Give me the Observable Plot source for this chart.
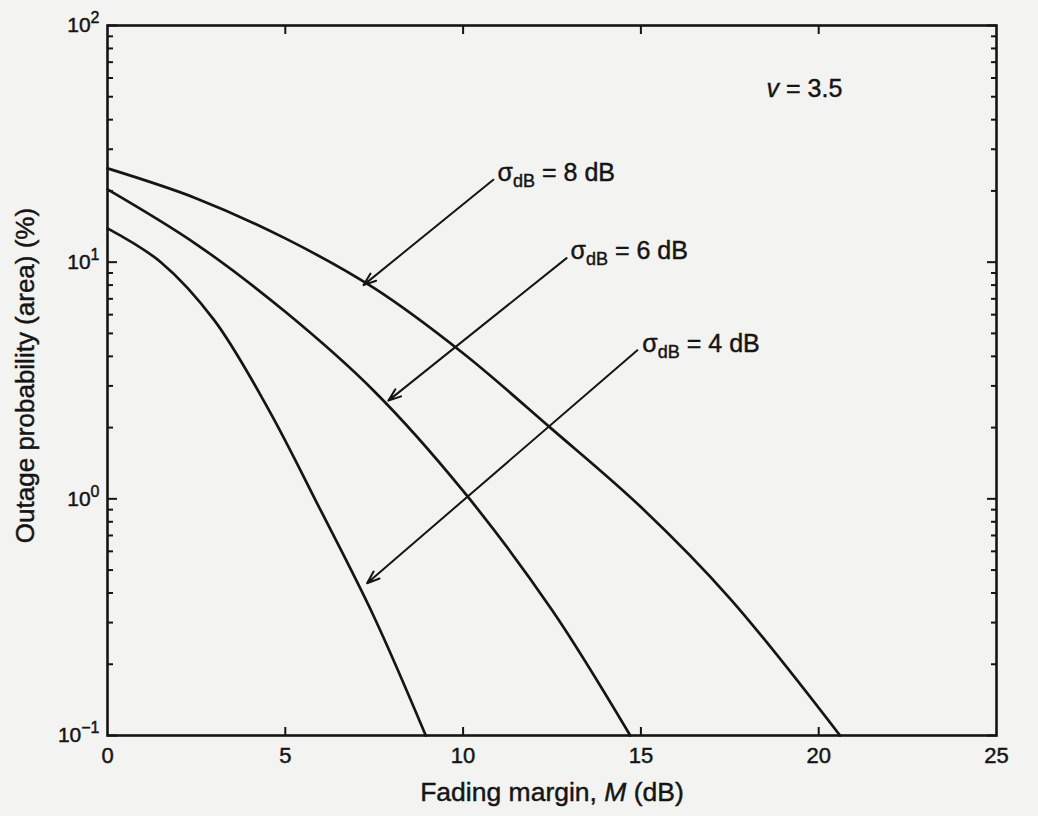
<!DOCTYPE html>
<html>
<head>
<meta charset="utf-8">
<script src="https://cdn.jsdelivr.net/npm/d3@7"></script>
<script src="https://cdn.jsdelivr.net/npm/@observablehq/plot@0.6"></script>
<style>
  body { margin: 0; background: #f3f3f1; }
  #chart { width: 1038px; height: 816px; }
</style>
</head>
<body>
<div id="chart"></div>
<script>
// ---- data ----
const margin8 = [0, 2.5, 5, 7.5, 10, 12.5, 15, 17.5, 20.6];
const outage8 = [24.9, 18.6, 12.6, 7.76, 4.12, 1.97, 0.923, 0.38, 0.1];
const margin6 = [0, 2.5, 5, 7.5, 10, 12.5, 14.7];
const outage6 = [20.3, 11.9, 6.17, 2.85, 1.08, 0.339, 0.1];
const margin4 = [0, 1.5, 3, 4.5, 6, 7.5, 8.95];
const outage4 = [13.9, 10.0, 5.69, 2.43, 0.891, 0.316, 0.1];

const sigmaNames = ["8 dB", "6 dB", "4 dB"];
const labelM = [10.97, 13.02, 15.04];
const labelP = [23.9, 11.2, 4.53];
const arrowFromM = [10.85, 12.91, 14.9];
const arrowFromP = [22.3, 10.4, 4.24];
const arrowToM = [7.2, 7.9, 7.3];
const arrowToP = [8.0, 2.6, 0.44];

const nuText = ["v = 3.5"];
const nuM = [19.6];
const nuP = [54];

const xTicks = [0, 5, 10, 15, 20, 25];
const xInnerTicks = [5, 10, 15, 20];
const yMajor = [0.1, 1, 10, 100];
const yExp = ["−1", "0", "1", "2"];
const yMinor = [0.2, 0.3, 0.4, 0.5, 0.6, 0.7, 0.8, 0.9,
                2, 3, 4, 5, 6, 7, 8, 9,
                20, 30, 40, 50, 60, 70, 80, 90];

const xTitle = "Fading margin, M (dB)";
const yTitle = "Outage probability (area) (%)";

// ---- build table ----
const series = [
  {sigma: "8 dB", M: margin8, P: outage8},
  {sigma: "6 dB", M: margin6, P: outage6},
  {sigma: "4 dB", M: margin4, P: outage4}
];
const lineData = series.flatMap(s => s.M.map((m, i) => ({sigma: s.sigma, M: m, P: s.P[i]})));

const ink = "#151515";
const font = "'Liberation Sans', Arial, Helvetica, sans-serif";

const chart = Plot.plot({
  width: 1038,
  height: 816,
  marginLeft: 107,
  marginRight: 42,
  marginTop: 25,
  marginBottom: 81,
  style: {background: "transparent", fontFamily: font, color: ink},
  x: {domain: [0, 25]},
  y: {type: "log", domain: [0.1, 100]},
  marks: [
    // tick labels
    Plot.axisX({anchor: "bottom", ticks: xTicks, tickSize: 0, tickPadding: 12, label: null, tickFormat: d => "x:" + d}),
    Plot.axisY({anchor: "left", ticks: yMajor, tickSize: 0, tickPadding: 8, label: null,
      tickFormat: d => "10^" + yExp[yMajor.indexOf(d)]}),
    // inward ticks
    Plot.axisX({anchor: "bottom", ticks: xInnerTicks, tickSize: -8, strokeWidth: 2, stroke: ink, tickFormat: () => "", label: null}),
    Plot.axisX({anchor: "top", ticks: xInnerTicks, tickSize: -8, strokeWidth: 2, stroke: ink, tickFormat: () => "", label: null}),
    Plot.axisY({anchor: "left", ticks: yMajor, tickSize: -10, strokeWidth: 2, stroke: ink, tickFormat: () => "", label: null}),
    Plot.axisY({anchor: "left", ticks: yMinor, tickSize: -6, strokeWidth: 2, stroke: ink, tickFormat: () => "", label: null}),
    Plot.axisY({anchor: "right", ticks: yMajor, tickSize: -10, strokeWidth: 2, stroke: ink, tickFormat: () => "", label: null}),
    Plot.axisY({anchor: "right", ticks: yMinor, tickSize: -6, strokeWidth: 2, stroke: ink, tickFormat: () => "", label: null}),
    Plot.frame({stroke: ink, strokeWidth: 2.6}),
    // curves
    Plot.line(lineData, {x: "M", y: "P", z: "sigma", curve: "catmull-rom", stroke: ink, strokeWidth: 2.7}),
    // arrows
    Plot.arrow(sigmaNames, {x1: arrowFromM, y1: arrowFromP, x2: arrowToM, y2: arrowToP,
      stroke: ink, strokeWidth: 2, headLength: 10, headAngle: 40}),
    // annotations
    Plot.text(sigmaNames, {x: labelM, y: labelP, text: d => d, textAnchor: "start", fontSize: 25, fill: ink}),
    Plot.text(nuText, {x: nuM, y: nuP, text: d => d, textAnchor: "middle", fontSize: 25, fill: ink}),
    // axis titles
    Plot.text([xTitle], {frameAnchor: "bottom", dy: 65, text: d => d, fontSize: 26.5, fill: ink}),
    Plot.text([yTitle], {frameAnchor: "left", dx: -82, dy: -5, rotate: -90, textAnchor: "middle", text: d => d, fontSize: 26, fill: ink})
  ]
});

const root = d3.select(chart);

root.selectAll("text").each(function () {
  const t = d3.select(this);
  const s = t.text();
  if (s.startsWith("x:")) {
    // x tick labels
    t.text(s.slice(2)).style("font-size", "22px");
  } else if (s.includes("^")) {
    // superscript exponent on y tick labels
    const [b, e] = s.split("^");
    t.text(null).style("font-size", "21px");
    t.append("tspan").text(b);
    t.append("tspan").attr("dy", "-9").style("font-size", "16px").text(e);
  } else if (sigmaNames.includes(s)) {
    // σ with subscript dB
    t.text(null);
    t.append("tspan").text("σ");
    t.append("tspan").attr("dy", "6").style("font-size", "18px").text("dB");
    t.append("tspan").attr("dy", "-6").text(" = " + s);
  } else if (nuText.includes(s)) {
    t.text(null);
    t.append("tspan").attr("font-style", "italic").text(s.slice(0, 1));
    t.append("tspan").text(s.slice(1));
  } else if (s === xTitle) {
    const k = s.indexOf("M (");
    t.text(null);
    t.append("tspan").text(s.slice(0, k));
    t.append("tspan").attr("font-style", "italic").text("M");
    t.append("tspan").text(s.slice(k + 1));
  }
});
// slightly heavier text, like the printed original
root.selectAll("text").style("stroke", ink).style("stroke-width", "0.45px");

document.getElementById("chart").appendChild(chart);
</script>
</body>
</html>
